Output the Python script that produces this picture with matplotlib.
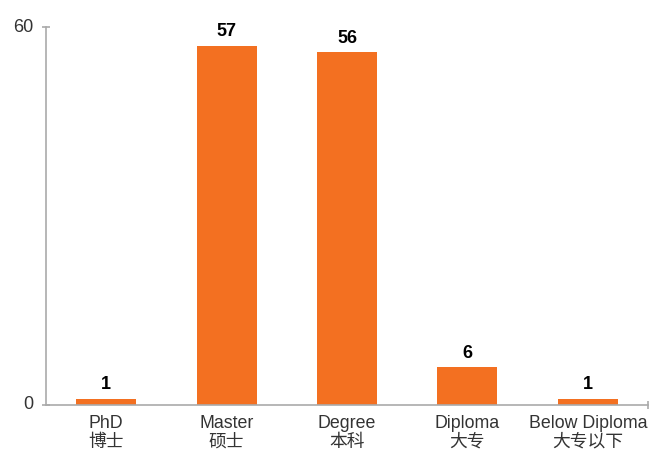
import matplotlib

matplotlib.use("Agg")

import matplotlib.pyplot as plt

categories = ["PhD\n博士", "Master\n硕士", "Degree\n本科", "Diploma\n大专", "Below Diploma\n大专以下"]
counts = [1, 57, 56, 6, 1]

FONTS = ["Liberation Sans", "Noto Sans CJK SC", "DejaVu Sans"]
plt.rcParams["font.family"] = FONTS

BAR_COLOR = "#F37021"
AXIS_COLOR = "#AAAAAA"
TEXT_COLOR = "#333333"

fig = plt.figure(figsize=(6.67, 4.54), dpi=100)
ax = fig.add_axes([0.069, 0.108, 0.9025, 0.8325])

x = list(range(len(categories)))
bars = ax.bar(x, counts, width=0.5, color=BAR_COLOR, zorder=2)

for rect, value in zip(bars, counts):
    ax.annotate(
        str(value),
        (rect.get_x() + rect.get_width() / 2, rect.get_height()),
        xytext=(0, 4),
        textcoords="offset points",
        ha="center",
        va="bottom",
        fontsize=13,
        fontweight="bold",
        color="black",
    )

ax.set_xlim(-0.5, len(categories) - 0.5)
ax.set_ylim(0, 60)
ax.set_yticks([0, 60])
ax.set_xticks(x)
ax.set_xticklabels(categories, fontsize=12.8, color=TEXT_COLOR, linespacing=1.15)
ax.set_xticks([len(categories) - 0.5], minor=True)

for side in ("top", "right"):
    ax.spines[side].set_visible(False)
for side in ("left", "bottom"):
    ax.spines[side].set_color(AXIS_COLOR)
    ax.spines[side].set_linewidth(1.2)

ax.tick_params(axis="y", direction="inout", length=6, width=1.2, color=AXIS_COLOR,
               labelsize=13, labelcolor=TEXT_COLOR, pad=6)
ax.tick_params(axis="x", which="major", length=0, pad=7)
ax.tick_params(axis="x", which="minor", direction="inout", length=6, width=1.2,
               color=AXIS_COLOR)
for label in ax.get_yticklabels():
    label.set_verticalalignment("center")

fig.savefig("out.png", dpi=100)
